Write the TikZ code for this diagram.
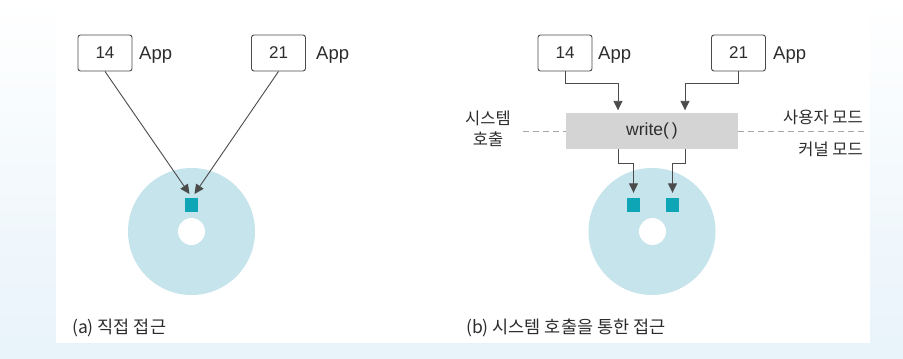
\documentclass[tikz,border=0pt]{standalone}
\usepackage{fontspec}
\setmainfont{Liberation Sans}
\newfontfamily\kr{Noto Sans CJK KR}
\usetikzlibrary{arrows.meta}
\definecolor{diskc}{RGB}{198,228,236}
\definecolor{sqc}{RGB}{14,165,182}
\definecolor{arrc}{RGB}{75,75,75}
\definecolor{txtc}{RGB}{45,45,45}
\definecolor{wrc}{RGB}{212,212,212}
\definecolor{bgc}{RGB}{232,243,250}
\begin{document}
\begin{tikzpicture}[x=1pt,y=-1pt,
  appbox/.style={draw=arrc,line width=0.9pt,rounded corners=2.5pt,minimum width=54pt,minimum height=36pt,inner sep=0pt,text=txtc,font=\fontsize{17}{19}\selectfont},
  applbl/.style={anchor=west,inner sep=0pt,text=txtc,font=\fontsize{18.5}{20}\selectfont},
  sqbox/.style={fill=sqc,minimum width=13.5pt,minimum height=14pt,inner sep=0pt},
  arr/.style={draw=arrc,line width=0.9pt,-{Triangle[length=9.5pt,width=9pt]}},
  krlbl/.style={inner sep=0pt,text=txtc,font=\kr\fontsize{16.5}{21}\selectfont},
  captxt/.style={anchor=west,inner sep=0pt,text=txtc,font=\kr\fontsize{17.5}{20}\selectfont},
  dashln/.style={draw=gray!70,line width=1pt,dash pattern=on 6pt off 4pt}
]
\useasboundingbox (0,0) rectangle (903,359);
% background
\shade[top color=white,bottom color=bgc] (0,0) rectangle (903,359);
\fill[white] (56,0) rectangle (870,343);

% ---------- (a) ----------
\fill[diskc] (191.5,231.5) circle[radius=63.5];
\fill[white] (191.5,231.5) circle[radius=13.5];
\node[sqbox] (asq) at (191.5,205) {};
\node[appbox] (a14) at (105,53) {14};
\node[applbl] (a14l) at (139,55) {App};
\node[appbox] (a21) at (278.5,53) {21};
\node[applbl] (a21l) at (316,55) {App};
\coordinate (ta) at (189.5,194);
\coordinate (tb) at (194.5,194);
\draw[arr] (a14.south) -- (ta);
\draw[arr] (a21.south) -- (tb);
\node[captxt] (capa) at (72,328) {(a) 직접 접근};

% ---------- (b) ----------
\fill[diskc] (652,231.5) circle[radius=63.5];
\fill[white] (652.5,231.5) circle[radius=13.5];
\node[sqbox] (bsq1) at (633.5,205) {};
\node[sqbox] (bsq2) at (672.5,205) {};
\node[appbox] (b14) at (565,53) {14};
\node[applbl] (b14l) at (598,55) {App};
\node[appbox] (b21) at (738.5,53) {21};
\node[applbl] (b21l) at (773,55) {App};
\node[fill=wrc,minimum width=172pt,minimum height=36pt,inner sep=0pt,text=txtc,font=\fontsize{17.5}{19}\selectfont] (wr) at (652,131) {write(\,)};
\coordinate (dl) at (523,131);
\coordinate (dr) at (867,131);
\draw[dashln] (dl) -- (wr.west);
\draw[dashln] (wr.east) -- (dr);
\draw[arr,shorten >=2.5pt] (b14.south) -- ++(0,12) -| ([xshift=-34pt]wr.north);
\draw[arr,shorten >=2.5pt] (b21.south) -- ++(0,12) -| ([xshift=33pt]wr.north);
\draw[arr,shorten >=5pt] ([xshift=-34pt]wr.south) -- ++(0,14) -| (bsq1.north);
\draw[arr,shorten >=5pt] ([xshift=33pt]wr.south) -- ++(0,14) -| (bsq2.north);
\node[krlbl,align=center] (sys) at (488,129) {시스템\\호출};
\node[krlbl,anchor=east] (um) at (863,117) {사용자 모드};
\node[krlbl,anchor=east] (km) at (863,149) {커널 모드};
\node[captxt] (capb) at (466,328) {(b) 시스템 호출을 통한 접근};
\end{tikzpicture}
\end{document}
